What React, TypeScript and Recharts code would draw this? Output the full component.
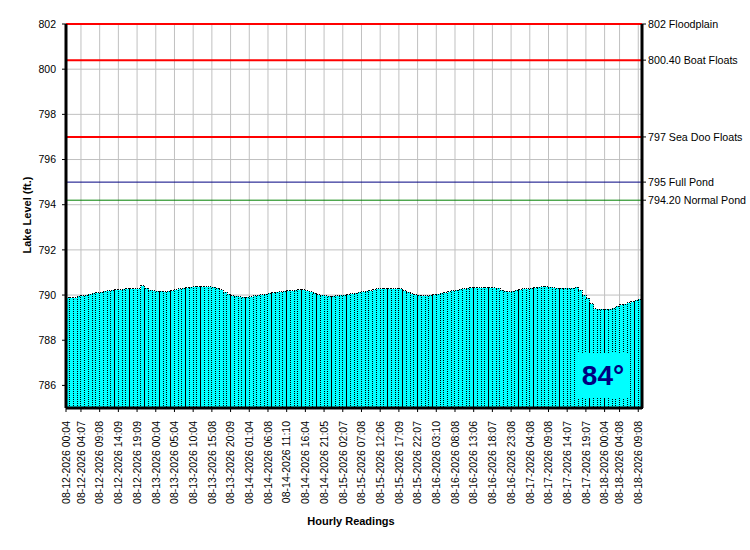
import React from 'react'
import { Bar, BarChart, CartesianGrid, ReferenceLine, XAxis, YAxis } from 'recharts'

const FONT = '"Liberation Sans", Arial, sans-serif'

// hourly lake level readings, 08-12-2026 00:04 .. 08-18-2026 09:08
const levels = [
  789.87, 789.87, 789.89, 789.94, 789.98, 790.0, 790.04, 790.08, 790.1, 790.13,
  790.16, 790.19, 790.22, 790.23, 790.24, 790.26, 790.27, 790.27, 790.27, 790.28,
  790.41, 790.3, 790.22, 790.19, 790.17, 790.16, 790.15, 790.16, 790.2, 790.24,
  790.28, 790.31, 790.33, 790.34, 790.36, 790.37, 790.37, 790.37, 790.36, 790.35,
  790.31, 790.24, 790.12, 790.03, 789.97, 789.94, 789.92, 789.91, 789.9, 789.93,
  789.98, 790.0, 790.01, 790.04, 790.08, 790.11, 790.13, 790.15, 790.17, 790.19,
  790.19, 790.21, 790.23, 790.23, 790.2, 790.14, 790.08, 790.02, 789.99, 789.97,
  789.95, 789.95, 789.98, 790.0, 790.0, 790.01, 790.05, 790.08, 790.12, 790.15,
  790.17, 790.2, 790.24, 790.27, 790.28, 790.28, 790.28, 790.28, 790.28, 790.27,
  790.2, 790.12, 790.06, 790.01, 789.99, 789.98, 789.98, 789.99, 790.01, 790.03,
  790.07, 790.1, 790.14, 790.18, 790.21, 790.26, 790.28, 790.3, 790.32, 790.32,
  790.32, 790.32, 790.32, 790.32, 790.32, 790.31, 790.22, 790.16, 790.15, 790.17,
  790.21, 790.24, 790.27, 790.28, 790.3, 790.32, 790.34, 790.37, 790.37, 790.35,
  790.33, 790.31, 790.3, 790.3, 790.3, 790.31, 790.34, 790.22, 790.0, 789.85,
  789.62, 789.4, 789.37, 789.37, 789.37, 789.37, 789.42, 789.5, 789.56, 789.6,
  789.65, 789.7, 789.77, 789.82,
]

// reading index of each labelled tick
const tickSlots = [
  0, 4, 9, 14, 19, 24, 29, 34, 39, 44, 49, 54, 59, 64, 69, 74,
  79, 84, 89, 94, 99, 104, 109, 114, 119, 124, 129, 134, 139, 144, 148, 153,
]
const tickLabels = [
  '08-12-2026 00:04', '08-12-2026 04:07', '08-12-2026 09:08', '08-12-2026 14:09', '08-12-2026 19:09',
  '08-13-2026 00:04', '08-13-2026 05:04', '08-13-2026 10:04', '08-13-2026 15:08', '08-13-2026 20:09',
  '08-14-2026 01:04', '08-14-2026 06:08', '08-14-2026 11:10', '08-14-2026 16:04', '08-14-2026 21:05',
  '08-15-2026 02:07', '08-15-2026 07:08', '08-15-2026 12:06', '08-15-2026 17:09', '08-15-2026 22:07',
  '08-16-2026 03:10', '08-16-2026 08:08', '08-16-2026 13:06', '08-16-2026 18:07', '08-16-2026 23:08',
  '08-17-2026 04:08', '08-17-2026 09:08', '08-17-2026 14:07', '08-17-2026 19:07',
  '08-18-2026 00:04', '08-18-2026 04:08', '08-18-2026 09:08',
]
const minorSlots = Array.from({ length: levels.length + 1 }, (_, i) => i)

const levelTicks = [786, 788, 790, 792, 794, 796, 798, 800, 802]
const levelMinorTicks = [786, 787, 788, 789, 790, 791, 792, 793, 794, 795, 796, 797, 798, 799, 800, 801, 802]

const markValues = [802, 800.4, 797, 795, 794.2]
const markLabels = ['802 Floodplain', '800.40 Boat Floats', '797 Sea Doo Floats', '795 Full Pond', '794.20 Normal Pond']
const markColors = ['#ff0000', '#ff0000', '#ff0000', '#000080', '#008000']
const markWidths = [2, 2, 2, 1, 1]

const waterTemp = '84°'

// each reading fills its hour slot [i, i + 1]
const rows = levels.map((v, i) => ({ slot: i + 0.5, level: v }))

function XTick({ x, y, payload }: any) {
  const k = tickSlots.indexOf(payload.value)
  return (
    <text
      x={0}
      y={0}
      transform={`translate(${x},${y}) rotate(-90)`}
      textAnchor="end"
      dy="0.36em"
      fontSize={10.5}
      fontFamily={FONT}
      fill="#000"
    >
      {k >= 0 ? tickLabels[k] : ''}
    </text>
  )
}

function MarkTick({ x, y, payload }: any) {
  let k = 0
  markValues.forEach((v, i) => {
    if (Math.abs(v - Number(payload.value)) < Math.abs(markValues[k] - Number(payload.value))) k = i
  })
  return (
    <text x={x} y={y} dy="0.36em" textAnchor="start" fontSize={10.7} fontFamily={FONT} fill="#000">
      {markLabels[k]}
    </text>
  )
}

export default function App() {
  const tickFont = { fontSize: 10.5, fill: '#000', fontFamily: FONT }
  return (
    <div style={{ position: 'absolute', left: 0, top: 0, width: 750, height: 550, background: '#fff', fontFamily: FONT }}>
      <BarChart
        width={750}
        height={550}
        data={rows}
        margin={{ top: 24, right: 8, bottom: 12, left: 6 }}
        barCategoryGap={0}
        barGap={0}
      >
        <CartesianGrid stroke="#c0c0c0" strokeWidth={1} />
        <XAxis
          xAxisId="minor"
          type="number"
          dataKey="slot"
          domain={[0, levels.length]}
          allowDataOverflow
          ticks={minorSlots}
          interval={0}
          height={0}
          axisLine={false}
          tickSize={2}
          tickLine={{ stroke: '#000' }}
          tickFormatter={() => ''}
        />
        <XAxis
          type="number"
          dataKey="slot"
          domain={[0, levels.length]}
          ticks={tickSlots}
          interval={0}
          height={130}
          axisLine={{ stroke: '#000', strokeWidth: 3 }}
          tickLine={{ stroke: '#000' }}
          tickSize={4}
          tickMargin={9}
          tick={<XTick />}
        />
        <YAxis
          yAxisId="minor"
          type="number"
          domain={[785, 802]}
          allowDataOverflow
          ticks={levelMinorTicks}
          interval={0}
          width={0}
          axisLine={false}
          tickSize={2}
          tickLine={{ stroke: '#000' }}
          tickFormatter={() => ''}
        />
        <YAxis
          domain={[785, 802]}
          ticks={levelTicks}
          interval={0}
          width={60}
          axisLine={{ stroke: '#000', strokeWidth: 3 }}
          tickLine={{ stroke: '#000' }}
          tickSize={4}
          tickMargin={6}
          tick={tickFont}
        />
        <YAxis
          yAxisId="right"
          orientation="right"
          type="number"
          domain={[785, 802]}
          allowDataOverflow
          ticks={markValues}
          interval={0}
          width={100}
          axisLine={{ stroke: '#000', strokeWidth: 3 }}
          tickLine={{ stroke: '#000' }}
          tickSize={4}
          tickMargin={2}
          tick={<MarkTick />}
        />
        <Bar
          dataKey="level"
          fill="#00ffff"
          stroke="#000"
          strokeWidth={1}
          strokeDasharray="1 1"
          shapeRendering="crispEdges"
          isAnimationActive={false}
        />
        {markValues.map((v, i) => (
          <ReferenceLine
            key={v}
            yAxisId="right"
            y={v}
            ifOverflow="extendDomain"
            stroke={markColors[i]}
            strokeWidth={markWidths[i]}
          />
        ))}
      </BarChart>

      <div
        style={{
          position: 'absolute', left: 27, top: 215, transform: 'translate(-50%, -50%) rotate(-90deg)',
          whiteSpace: 'nowrap', fontSize: 11, fontWeight: 'bold', color: '#000',
        }}
      >
        Lake Level (ft.)
      </div>
      <div
        style={{
          position: 'absolute', left: 351, top: 521, transform: 'translate(-50%, -50%)',
          whiteSpace: 'nowrap', fontSize: 11, fontWeight: 'bold', color: '#000',
        }}
      >
        Hourly Readings
      </div>
      <div
        style={{
          position: 'absolute', left: 578, top: 353, width: 50, height: 45, background: '#00ffff',
          display: 'flex', alignItems: 'center', justifyContent: 'center',
          fontSize: 28, fontWeight: 'bold', color: '#000080', lineHeight: 1,
        }}
      >
        {waterTemp}
      </div>
    </div>
  )
}
